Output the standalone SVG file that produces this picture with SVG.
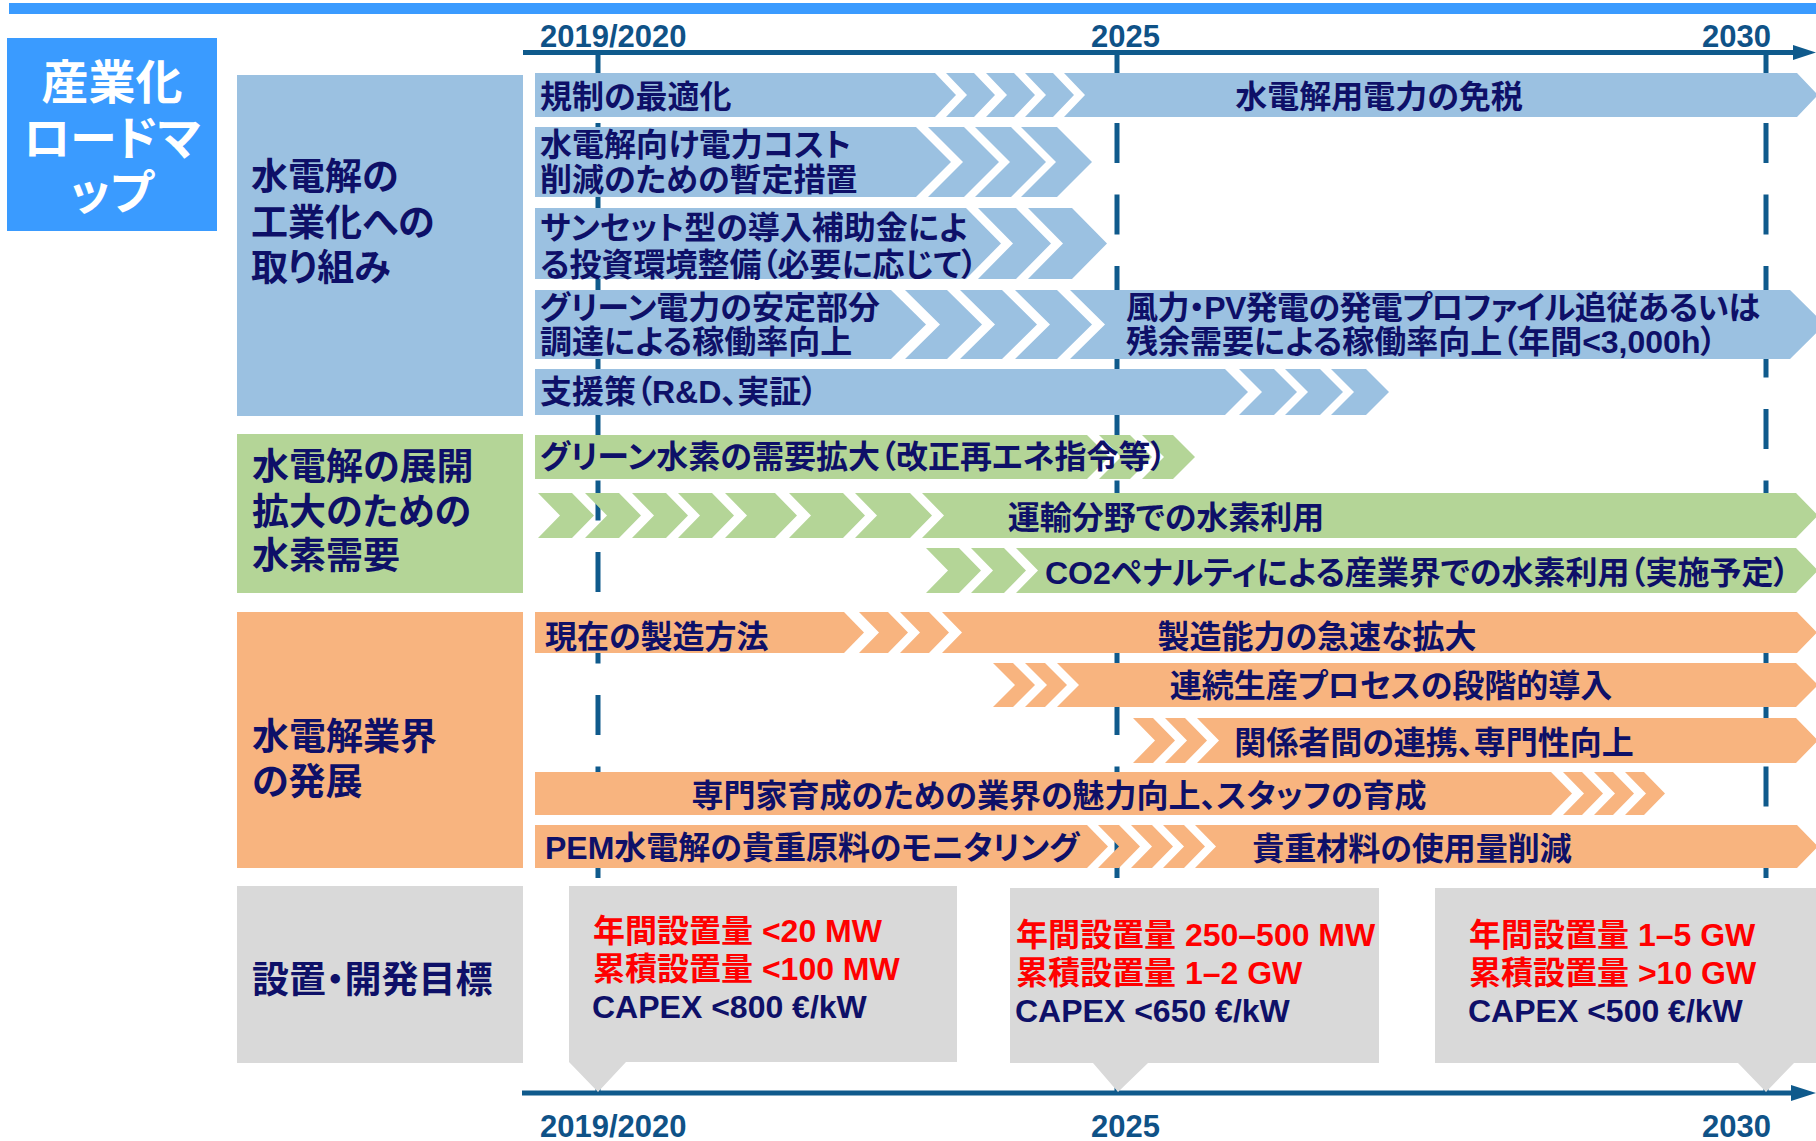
<svg xmlns="http://www.w3.org/2000/svg" width="1816" height="1141" viewBox="0 0 1816 1141">
<style>
.bl{fill:#9BC1E1}
.gr{fill:#B4D597}
.or{fill:#F8B47F}
.gy{fill:#D9D9D9}
.t{font-family:"Liberation Sans","Noto Sans CJK JP",sans-serif;font-weight:bold;font-size:32px;fill:#0E1068;font-feature-settings:"palt"}
.c{font-family:"Liberation Sans","Noto Sans CJK JP",sans-serif;font-weight:bold;font-size:37px;fill:#0E1068;font-feature-settings:"palt"}
.m{text-anchor:middle}
.ttl{font-family:"Liberation Sans","Noto Sans CJK JP",sans-serif;font-weight:bold;font-size:47px;fill:#FFFFFF;text-anchor:middle;font-feature-settings:"palt"}
.r{fill:#FF0000}
.y{font-family:"Liberation Sans",sans-serif;font-weight:bold;font-size:31px;fill:#0F5287}
.ax{stroke:#0F5A8C;stroke-width:5;fill:none}
.dl{stroke:#0F5A8C;stroke-width:5;fill:none;stroke-dasharray:40 31.5}
.ah{fill:#0F5A8C}
</style>

<rect x="9" y="3" width="1807" height="11" fill="#3A9BFF"/>

<g id="title">
<rect x="7" y="38" width="210" height="193" fill="#3A9BFF"/>
<text class="ttl" x="112" y="99">産業化</text>
<text class="ttl" x="112" y="155">ロードマ</text>
<text class="ttl" x="112" y="209">ップ</text>
</g>

<g id="connectors">
<path class="dl" d="M598,51.5 V1092"/>
<path class="dl" d="M1117,51.5 V1092"/>
<path class="dl" d="M1766,51.5 V1092"/>
<path class="ax" d="M523,52.5 H1796"/>
<polygon class="ah" points="1793,45 1816,52.5 1793,60"/>
<path class="ax" d="M522,1093 H1794"/>
<polygon class="ah" points="1791,1085 1816,1093 1791,1101"/>
</g>

<g id="years">
<text class="y" x="540" y="47">2019/2020</text>
<text class="y" x="1091" y="47">2025</text>
<text class="y" x="1702" y="47">2030</text>
<text class="y" x="540" y="1137">2019/2020</text>
<text class="y" x="1091" y="1137">2025</text>
<text class="y" x="1702" y="1137">2030</text>
</g>

<g id="cat-industrialization">
<rect class="bl" x="237" y="75" width="286" height="341"/>
<text class="c" x="251" y="190">水電解の</text>
<text class="c" x="251" y="236">工業化への</text>
<text class="c" x="251" y="281">取り組み</text>
</g>

<g id="cat-demand">
<rect class="gr" x="237" y="434" width="286" height="159"/>
<text class="c" x="252" y="480">水電解の展開</text>
<text class="c" x="252" y="525">拡大のための</text>
<text class="c" x="252" y="569">水素需要</text>
</g>

<g id="cat-sector">
<rect class="or" x="237" y="612" width="286" height="256"/>
<text class="c" x="252" y="750">水電解業界</text>
<text class="c" x="252" y="795">の発展</text>
</g>

<g id="cat-targets">
<rect class="gy" x="237" y="886" width="286" height="177"/>
<text class="c" x="252" y="993">設置・開発目標</text>
</g>

<g id="row1">
<polygon class="bl" points="535,73 935,73 956,95 935,117 535,117"/>
<polygon class="bl" points="946,73 974,73 995,95 974,117 946,117 967,95"/>
<polygon class="bl" points="986,73 1014,73 1035,95 1014,117 986,117 1007,95"/>
<polygon class="bl" points="1025,73 1053,73 1074,95 1053,117 1025,117 1046,95"/>
<polygon class="bl" points="1064,73 1797,73 1818,95 1797,117 1064,117 1085,95"/>
<text class="t" x="540" y="108">規制の最適化</text>
<text class="t m" x="1379" y="108">水電解用電力の免税</text>
</g>

<g id="row2">
<polygon class="bl" points="535,127 916,127 951,162 916,197 535,197"/>
<polygon class="bl" points="928,127 964,127 999,162 964,197 928,197 963,162"/>
<polygon class="bl" points="975,127 1011,127 1046,162 1011,197 975,197 1010,162"/>
<polygon class="bl" points="1021,127 1057,127 1092,162 1057,197 1021,197 1056,162"/>
<text class="t" x="540" y="156">水電解向け電力コスト</text>
<text class="t" x="540" y="191">削減のための暫定措置</text>
</g>

<g id="row3">
<polygon class="bl" points="535,208 966,208 1001,243.5 966,279 535,279"/>
<polygon class="bl" points="978,208 1016,208 1051,243.5 1016,279 978,279 1013,243.5"/>
<polygon class="bl" points="1028,208 1072,208 1107,243.5 1072,279 1028,279 1063,243.5"/>
<text class="t" x="540" y="239">サンセット型の導入補助金によ</text>
<text class="t" x="540" y="276">る投資環境整備（必要に応じて）</text>
</g>

<g id="row4">
<polygon class="bl" points="535,290 891,290 926,324.5 891,359 535,359"/>
<polygon class="bl" points="905,290 947,290 982,324.5 947,359 905,359 940,324.5"/>
<polygon class="bl" points="960,290 1002,290 1037,324.5 1002,359 960,359 995,324.5"/>
<polygon class="bl" points="1015,290 1057,290 1092,324.5 1057,359 1015,359 1050,324.5"/>
<polygon class="bl" points="1070,290 1790,290 1825,324.5 1790,359 1070,359 1105,324.5"/>
<text class="t" x="540" y="319">グリーン電力の安定部分</text>
<text class="t" x="540" y="353">調達による稼働率向上</text>
<text class="t" x="1126" y="319" textLength="634">風力・PV発電の発電プロファイル追従あるいは</text>
<text class="t" x="1126" y="353">残余需要による稼働率向上（年間&lt;3,000h）</text>
</g>

<g id="row5">
<polygon class="bl" points="535,369 1225,369 1248,392 1225,415 535,415"/>
<polygon class="bl" points="1239,369 1274,369 1297,392 1274,415 1239,415 1262,392"/>
<polygon class="bl" points="1285,369 1320,369 1343,392 1320,415 1285,415 1308,392"/>
<polygon class="bl" points="1331,369 1366,369 1389,392 1366,415 1331,415 1354,392"/>
<text class="t" x="540" y="403">支援策（R&amp;D、実証）</text>
</g>

<g id="row6">
<polygon class="gr" points="535,435 1087,435 1109,457 1087,479 535,479"/>
<polygon class="gr" points="1099,435 1130,435 1152,457 1130,479 1099,479 1121,457"/>
<polygon class="gr" points="1142,435 1173,435 1195,457 1173,479 1142,479 1164,457"/>
<text class="t" x="540" y="468">グリーン水素の需要拡大（改正再エネ指令等）</text>
</g>

<g id="row7">
<polygon class="gr" points="538,493 572,493 594,515.5 572,538 538,538 560,515.5"/>
<polygon class="gr" points="585,493 619,493 641,515.5 619,538 585,538 607,515.5"/>
<polygon class="gr" points="632,493 666,493 688,515.5 666,538 632,538 654,515.5"/>
<polygon class="gr" points="678,493 712,493 734,515.5 712,538 678,538 700,515.5"/>
<polygon class="gr" points="725,493 775,493 797,515.5 775,538 725,538 747,515.5"/>
<polygon class="gr" points="789,493 843,493 865,515.5 843,538 789,538 811,515.5"/>
<polygon class="gr" points="855,493 910,493 932,515.5 910,538 855,538 877,515.5"/>
<polygon class="gr" points="922,493 1796,493 1818,515.5 1796,538 922,538 944,515.5"/>
<text class="t m" x="1166" y="529">運輸分野での水素利用</text>
</g>

<g id="row8">
<polygon class="gr" points="926,548 959,548 981,570.5 959,593 926,593 948,570.5"/>
<polygon class="gr" points="971,548 1004,548 1026,570.5 1004,593 971,593 993,570.5"/>
<polygon class="gr" points="1016,548 1796,548 1818,570.5 1796,593 1016,593 1038,570.5"/>
<text class="t" x="1045" y="584">CO2ペナルティによる産業界での水素利用（実施予定）</text>
</g>

<g id="row9">
<polygon class="or" points="535,612 844,612 864,632.5 844,653 535,653"/>
<polygon class="or" points="859,612 888,612 908,632.5 888,653 859,653 879,632.5"/>
<polygon class="or" points="900,612 929,612 949,632.5 929,653 900,653 920,632.5"/>
<polygon class="or" points="942,612 1797,612 1817,632.5 1797,653 942,653 962,632.5"/>
<text class="t" x="545" y="648">現在の製造方法</text>
<text class="t m" x="1317" y="648">製造能力の急速な拡大</text>
</g>

<g id="row10">
<polygon class="or" points="993,663 1013,663 1035,685 1013,707 993,707 1015,685"/>
<polygon class="or" points="1025,663 1045,663 1067,685 1045,707 1025,707 1047,685"/>
<polygon class="or" points="1057,663 1796,663 1818,685 1796,707 1057,707 1079,685"/>
<text class="t m" x="1391" y="697">連続生産プロセスの段階的導入</text>
</g>

<g id="row11">
<polygon class="or" points="1133,718 1153,718 1175,740.5 1153,763 1133,763 1155,740.5"/>
<polygon class="or" points="1165,718 1185,718 1207,740.5 1185,763 1165,763 1187,740.5"/>
<polygon class="or" points="1197,718 1796,718 1818,740.5 1796,763 1197,763 1219,740.5"/>
<text class="t m" x="1434" y="754">関係者間の連携、専門性向上</text>
</g>

<g id="row12">
<polygon class="or" points="535,772 1551,772 1572,793.5 1551,815 535,815"/>
<polygon class="or" points="1563,772 1582,772 1603,793.5 1582,815 1563,815 1584,793.5"/>
<polygon class="or" points="1594,772 1613,772 1634,793.5 1613,815 1594,815 1615,793.5"/>
<polygon class="or" points="1625,772 1644,772 1665,793.5 1644,815 1625,815 1646,793.5"/>
<text class="t m" x="1059" y="807">専門家育成のための業界の魅力向上、スタッフの育成</text>
</g>

<g id="row13">
<polygon class="or" points="535,825 1087,825 1108,846.5 1087,868 535,868"/>
<polygon class="or" points="1098,825 1119,825 1140,846.5 1119,868 1098,868 1119,846.5"/>
<polygon class="or" points="1131,825 1152,825 1173,846.5 1152,868 1131,868 1152,846.5"/>
<polygon class="or" points="1163,825 1184,825 1205,846.5 1184,868 1163,868 1184,846.5"/>
<polygon class="or" points="1195,825 1797,825 1818,846.5 1797,868 1195,868 1216,846.5"/>
<text class="t" x="545" y="859">PEM水電解の貴重原料のモニタリング</text>
<text class="t m" x="1412" y="860">貴重材料の使用量削減</text>
</g>

<g id="target-2020">
<path class="gy" d="M569,886 H957 V1062 H626 L598,1092 L569,1062 Z"/>
<text class="t r" x="593" y="942">年間設置量 &lt;20 MW</text>
<text class="t r" x="593" y="980">累積設置量 &lt;100 MW</text>
<text class="t" x="592" y="1018">CAPEX &lt;800 €/kW</text>
</g>

<g id="target-2025">
<path class="gy" d="M1010,888 H1379 V1063 H1148 L1118,1092 L1093,1063 H1010 Z"/>
<text class="t r" x="1016" y="946">年間設置量 250–500 MW</text>
<text class="t r" x="1016" y="984">累積設置量 1–2 GW</text>
<text class="t" x="1015" y="1022">CAPEX &lt;650 €/kW</text>
</g>

<g id="target-2030">
<path class="gy" d="M1435,888 H1816 V1063 H1794 L1766,1092 L1738,1063 H1435 Z"/>
<text class="t r" x="1469" y="946">年間設置量 1–5 GW</text>
<text class="t r" x="1469" y="984">累積設置量 &gt;10 GW</text>
<text class="t" x="1468" y="1022">CAPEX &lt;500 €/kW</text>
</g>
</svg>
